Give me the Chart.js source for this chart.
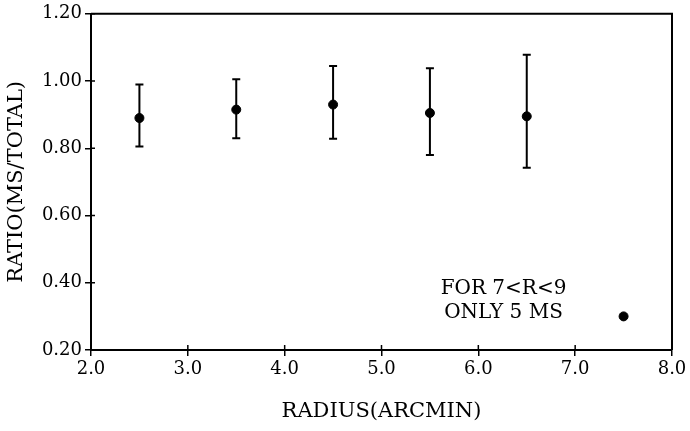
<!DOCTYPE html>
<html>
<head>
<meta charset="utf-8">
<script src="https://cdn.jsdelivr.net/npm/chart.js@4.4.1/dist/chart.umd.min.js"></script>
<style>
html,body{margin:0;padding:0;background:#fff;}
#wrap{width:690px;height:431px;}
</style>
</head>
<body>
<div id="wrap"><canvas id="c" width="690" height="431"></canvas></div>
<script>
// Data
const radius   = [2.5, 3.5, 4.5, 5.5, 6.5, 7.5];
const ratio    = [0.89, 0.915, 0.93, 0.905, 0.895, 0.30];
const errLow   = [0.805, 0.83, 0.828, 0.78, 0.742, null];
const errHigh  = [0.99, 1.005, 1.045, 1.038, 1.078, null];
const xTicks   = [2.0, 3.0, 4.0, 5.0, 6.0, 7.0, 8.0];
const yTicks   = [0.20, 0.40, 0.60, 0.80, 1.00, 1.20];
const noteLines = ["FOR 7<R<9", "ONLY 5 MS"];
const noteX = 6.26;
const noteY = [0.383, 0.312];

const FONT = "'DejaVu Serif', 'Liberation Serif', serif";

const errorBars = {
  id: 'errorBars',
  afterDatasetsDraw(chart) {
    const ctx = chart.ctx, xs = chart.scales.x, ys = chart.scales.y;
    ctx.save();
    ctx.strokeStyle = '#000';
    ctx.lineWidth = 2;
    for (let i = 0; i < radius.length; i++) {
      if (errLow[i] == null) continue;
      const px = xs.getPixelForValue(radius[i]);
      const y1 = ys.getPixelForValue(errLow[i]);
      const y2 = ys.getPixelForValue(errHigh[i]);
      ctx.beginPath();
      ctx.moveTo(px, y1); ctx.lineTo(px, y2);
      ctx.moveTo(px - 4, y1); ctx.lineTo(px + 4, y1);
      ctx.moveTo(px - 4, y2); ctx.lineTo(px + 4, y2);
      ctx.stroke();
    }
    // note text
    ctx.fillStyle = '#000';
    ctx.font = '20px ' + FONT;
    ctx.textAlign = 'center';
    ctx.textBaseline = 'middle';
    noteLines.forEach((t, k) => {
      ctx.fillText(t, xs.getPixelForValue(noteX), ys.getPixelForValue(noteY[k]));
    });
    // frame top/right
    const a = chart.chartArea;
    ctx.lineWidth = 2;
    ctx.beginPath();
    ctx.moveTo(a.left, a.top); ctx.lineTo(a.right, a.top); ctx.lineTo(a.right, a.bottom);
    ctx.stroke();
    // inner tick marks
    ctx.lineWidth = 1.5;
    ctx.beginPath();
    yTicks.forEach(v => { const py = ys.getPixelForValue(v); ctx.moveTo(a.left, py); ctx.lineTo(a.left + 4, py); });
    xTicks.forEach(v => { const px = xs.getPixelForValue(v); ctx.moveTo(px, a.bottom); ctx.lineTo(px, a.bottom - 5); });
    ctx.stroke();
    ctx.restore();
  }
};

new Chart(document.getElementById('c'), {
  type: 'scatter',
  data: {
    datasets: [{
      data: radius.map((r, i) => ({x: r, y: ratio[i]})),
      backgroundColor: '#000',
      borderColor: '#000',
      pointRadius: 4.5,
      pointHoverRadius: 4.5
    }]
  },
  options: {
    responsive: false,
    animation: false,
    events: [],
    layout: { padding: { left: 0, top: 12, right: 18, bottom: 0 } },
    plugins: { legend: { display: false }, tooltip: { enabled: false } },
    scales: {
      x: {
        type: 'linear',
        min: 2, max: 8,
        afterBuildTicks: s => { s.ticks = xTicks.map(v => ({value: v})); },
        afterFit: s => { s.height = 81; },
        border: { display: true, color: '#000', width: 2 },
        grid: { drawOnChartArea: false, color: '#000', tickLength: 6, lineWidth: 1.5 },
        ticks: { color: '#000', padding: 3, maxRotation: 0, font: { family: FONT, size: 18 },
                 callback: v => Number(v).toFixed(1) },
        title: { display: true, text: 'RADIUS(ARCMIN)', color: '#000',
                 font: { family: FONT, size: 21 }, padding: { top: 0, bottom: 7 } }
      },
      y: {
        type: 'linear',
        min: 0.2, max: 1.2,
        afterBuildTicks: s => { s.ticks = yTicks.map(v => ({value: v})); },
        afterFit: s => { s.width = 91; },
        border: { display: true, color: '#000', width: 2 },
        grid: { drawOnChartArea: false, color: '#000', tickLength: 6, lineWidth: 1.5 },
        ticks: { color: '#000', padding: 3, font: { family: FONT, size: 18 },
                 callback: v => Number(v).toFixed(2) },
        title: { display: true, text: 'RATIO(MS/TOTAL)', color: '#000',
                 font: { family: FONT, size: 21 }, padding: { top: 4, bottom: 0 } }
      }
    }
  },
  plugins: [errorBars]
});
</script>
</body>
</html>
